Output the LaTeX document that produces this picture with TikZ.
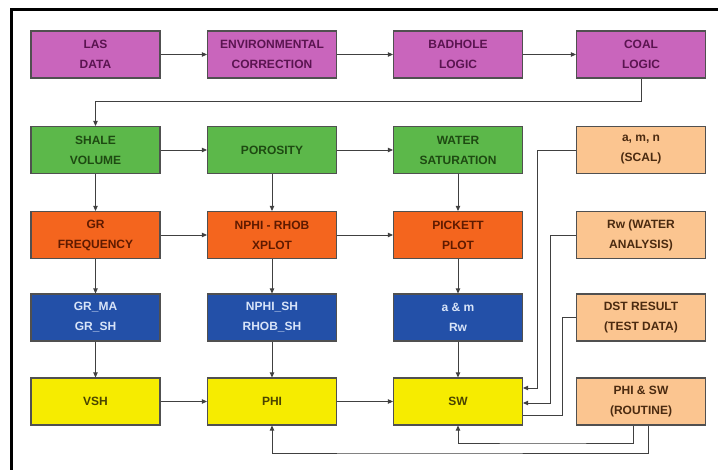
\documentclass[tikz,border=0pt]{standalone}
\usepackage{fontspec}
\setmainfont{Liberation Sans}
\usetikzlibrary{arrows.meta}
\definecolor{purpleF}{HTML}{C965BC}
\definecolor{purpleT}{HTML}{5A1450}
\definecolor{greenF}{HTML}{5CB84A}
\definecolor{greenT}{HTML}{1E4A12}
\definecolor{orangeF}{HTML}{F4651E}
\definecolor{orangeT}{HTML}{5E1A00}
\definecolor{blueF}{HTML}{2350A8}
\definecolor{blueT}{HTML}{D8E4F8}
\definecolor{yellowF}{HTML}{F6EC00}
\definecolor{yellowT}{HTML}{4A4400}
\definecolor{peachF}{HTML}{FBC590}
\definecolor{peachT}{HTML}{4A2A10}
\definecolor{edgeC}{HTML}{505050}
\definecolor{lineC}{HTML}{404040}
\begin{document}
\begin{tikzpicture}[x=1pt,y=-1pt,
  box/.style={draw=edgeC, line width=1.2pt, minimum width=129pt, minimum height=47pt,
    inner sep=0pt, align=center, font=\bfseries\fontsize{12}{20}\selectfont},
  pbox/.style={box, fill=purpleF, text=purpleT},
  gbox/.style={box, fill=greenF, text=greenT},
  obox/.style={box, fill=orangeF, text=orangeT},
  bbox/.style={box, fill=blueF, text=blueT},
  ybox/.style={box, fill=yellowF, text=yellowT},
  kbox/.style={box, fill=peachF, text=peachT},
  arr/.style={draw=lineC, line width=0.9pt, -{Triangle[length=5pt,width=4.5pt]}},
  ln/.style={draw=lineC, line width=0.9pt}]
\useasboundingbox (0,0) rectangle (718,470);
\fill[white] (0,0) rectangle (718,470);
\draw[black, line width=3pt] (11.5,475) -- (11.5,9.5) -- (725,9.5);

% row 1
\node[pbox] (las) at (95.5,54.5) {LAS\\DATA};
\node[pbox] (env) at (272,54.5) {ENVIRONMENTAL\\CORRECTION};
\node[pbox] (bad) at (458,54.5) {BADHOLE\\LOGIC};
\node[pbox] (coal) at (641,54.5) {COAL\\LOGIC};
% row 2
\node[gbox] (shale) at (95.5,150) {SHALE\\VOLUME};
\node[gbox] (por) at (272,150) {POROSITY};
\node[gbox] (wsat) at (458,150) {WATER\\SATURATION};
\node[kbox] (scal) at (641,150) {a, m, n\\(SCAL)};
% row 3
\node[obox] (grf) at (95.5,235) {GR\\FREQUENCY};
\node[obox] (xplot) at (272,235) {NPHI - RHOB\\XPLOT};
\node[obox] (pick) at (458,235) {PICKETT\\PLOT};
\node[kbox] (rw) at (641,235) {Rw (WATER\\ANALYSIS)};
% row 4
\node[bbox] (grma) at (95.5,317.5) {GR\_MA\\GR\_SH};
\node[bbox] (nphish) at (272,317.5) {NPHI\_SH\\RHOB\_SH};
\node[bbox] (am) at (458,317.5) {a \& m\\Rw};
\node[kbox] (dst) at (641,317.5) {DST RESULT\\(TEST DATA)};
% row 5
\node[ybox] (vsh) at (95.5,401.5) {VSH};
\node[ybox] (phi) at (272,401.5) {PHI};
\node[ybox] (sw) at (458,401.5) {SW};
\node[kbox] (rout) at (641,401.5) {PHI \& SW\\(ROUTINE)};

% horizontal arrows
\draw[arr] (las) -- (env);
\draw[arr] (env) -- (bad);
\draw[arr] (bad) -- (coal);
\draw[arr] (shale) -- (por);
\draw[arr] (por) -- (wsat);
\draw[arr] (grf) -- (xplot);
\draw[arr] (xplot) -- (pick);
\draw[arr] (vsh) -- (phi);
\draw[arr] (phi) -- (sw);
% vertical arrows
\draw[arr] (shale) -- (grf);
\draw[arr] (grf) -- (grma);
\draw[arr] (grma) -- (vsh);
\draw[arr] (por) -- (xplot);
\draw[arr] (xplot) -- (nphish);
\draw[arr] (nphish) -- (phi);
\draw[arr] (wsat) -- (pick);
\draw[arr] (pick) -- (am);
\draw[arr] (am) -- (sw);

% coal -> shale
\coordinate (cj) at (0,101);
\draw[arr] (coal.south) -- (coal.south |- cj) -- (shale.north |- cj) -- (shale.north);

% right column feeds into SW
\coordinate (v1) at (537,0);
\coordinate (v2) at (550,0);
\coordinate (v3) at (562,0);
\draw[arr] (scal.west) -- (scal.west -| v1) |- ([yshift=13.5pt]sw.east);
\draw[arr] (rw.west) -- (rw.west -| v2) |- ([yshift=-1.5pt]sw.east);
\draw[ln] (dst.west) -- (dst.west -| v3) |- ([yshift=-13.5pt]sw.east);

% routine -> SW and PHI
\coordinate (h1) at (540,443);
\coordinate (h2) at (400,453);
\draw[arr] ([xshift=-7.5pt]rout.south) |- (h1) -| (sw.south);
\draw[arr] ([xshift=7.5pt]rout.south) |- (h2) -| (phi.south);
\end{tikzpicture}
\end{document}
